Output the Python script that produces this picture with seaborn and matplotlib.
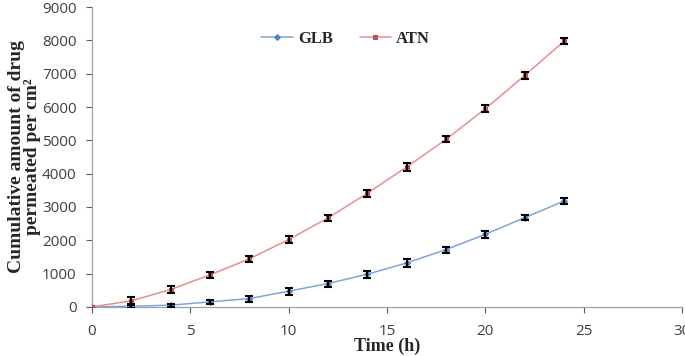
import matplotlib
matplotlib.use("Agg")
import matplotlib.pyplot as plt
import seaborn as sns
import pandas as pd
import numpy as np

time_h = [0, 2, 4, 6, 8, 10, 12, 14, 16, 18, 20, 22, 24]
glb = [0, 20, 50, 150, 250, 470, 700, 980, 1320, 1720, 2180, 2680, 3180]
glb_err = [0, 60, 50, 70, 90, 100, 90, 100, 110, 90, 100, 80, 90]
atn = [0, 180, 520, 960, 1440, 2020, 2670, 3410, 4200, 5030, 5950, 6950, 7980]
atn_err = [0, 120, 100, 90, 100, 110, 80, 110, 120, 90, 110, 100, 100]
series_names = ["GLB", "ATN"]

df = pd.DataFrame({
    "Time": time_h * 2,
    "Value": glb + atn,
    "Series": [series_names[0]] * len(time_h) + [series_names[1]] * len(time_h),
})

sns.set_style("white")
plt.rcParams['font.family'] = ['Open Sans', 'DejaVu Sans']

fig = plt.figure(figsize=(6.85, 3.56), dpi=100)
ax = fig.add_axes([0.134, 0.138, 0.862, 0.842])

line_colors = {"GLB": "#7EA6D9", "ATN": "#E58F8F"}
marker_colors = {"GLB": "#4F81BD", "ATN": "#C0504D"}
markers = {"GLB": "D", "ATN": "s"}

for name, vals, errs in [("GLB", glb, glb_err), ("ATN", atn, atn_err)]:
    sub = df[df["Series"] == name]
    sns.lineplot(data=sub, x="Time", y="Value", ax=ax, color=line_colors[name],
                 linewidth=1.1, marker=markers[name], markersize=3.5 if name == "ATN" else 3,
                 markerfacecolor=marker_colors[name], markeredgecolor=marker_colors[name],
                 label=name, zorder=3)
    ax.errorbar(time_h[1:], vals[1:], yerr=errs[1:], fmt="none", ecolor="black",
                elinewidth=1.5, capsize=3.2, capthick=1.5, zorder=4)

ax.set_xlim(0, 30)
ax.set_ylim(0, 9000)
ax.set_xticks(range(0, 31, 5))
ax.set_yticks(range(0, 9001, 1000))
ax.tick_params(axis="both", labelsize=11, colors="#595959", length=4, direction="out",
               bottom=True, left=True, width=0.8)
for lab in ax.get_xticklabels() + ax.get_yticklabels():
    lab.set_color("#404040")
ax.tick_params(axis="x", pad=8)
ax.tick_params(axis="y", pad=7)

for s in ["top", "right"]:
    ax.spines[s].set_visible(False)
for s in ["left", "bottom"]:
    ax.spines[s].set_color("#A0A0A0")
    ax.spines[s].set_linewidth(0.9)

ax.set_xlabel("Time (h)", fontsize=13, fontweight="bold", family=["Liberation Serif"], labelpad=-1)
ax.xaxis.set_label_coords(0.5, -0.102)
ax.set_ylabel("Cumulative amount of drug\npermeated per cm²", fontsize=14,
              fontweight="bold", family=["Liberation Serif"], linespacing=0.95)
ax.yaxis.set_label_coords(-0.086, 0.5)

leg = ax.legend(loc="upper center", bbox_to_anchor=(0.43, 0.97), ncol=2, frameon=False,
                prop={"family": "Liberation Serif", "weight": "bold", "size": 12},
                handlelength=1.9, columnspacing=1.6, handletextpad=0.3)

fig.savefig("out.png", dpi=100)
